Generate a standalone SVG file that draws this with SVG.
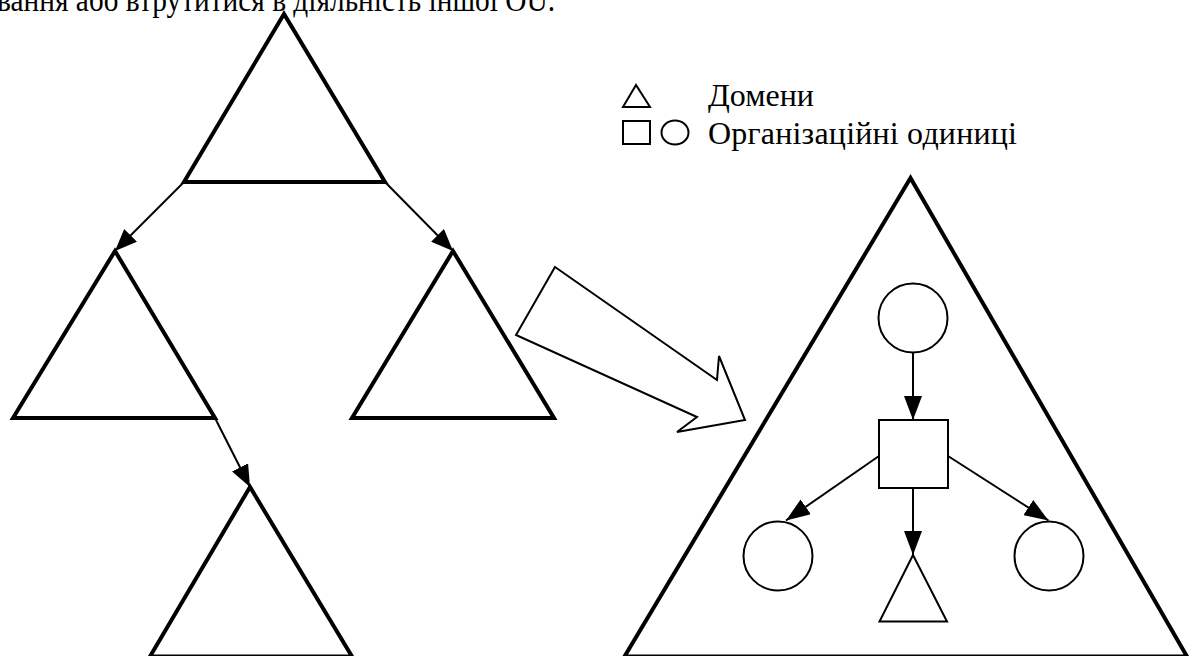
<svg xmlns="http://www.w3.org/2000/svg" width="1190" height="656" viewBox="0 0 1190 656">
<defs>
<style>
.dom{fill:#fff;stroke:#000;stroke-width:4;stroke-linejoin:miter}
.big{fill:#fff;stroke:#000;stroke-width:4}
.thin{fill:#fff;stroke:#000;stroke-width:2}
.con{fill:none;stroke:#000;stroke-width:2}
.txt{font-family:"Liberation Serif","Times New Roman",serif;fill:#000}
</style>
<marker id="ah" markerUnits="userSpaceOnUse" markerWidth="22" markerHeight="18" refX="22" refY="9" orient="auto">
<path d="M0,0 L22,9 L0,18 z" fill="#000"/>
</marker>
<marker id="ah2" markerUnits="userSpaceOnUse" markerWidth="24" markerHeight="18" refX="24" refY="9" orient="auto">
<path d="M0,0 L24,9 L0,18 z" fill="#000"/>
</marker>
</defs>
<rect width="1190" height="656" fill="#fff"/>
<text class="txt" x="-3" y="11" font-size="33" textLength="558" lengthAdjust="spacingAndGlyphs">вання або втрутитися в діяльність іншої OU.</text>

<g id="dom-top"><polygon class="dom" points="284,14 184,182 385,182"/></g>
<g id="dom-left"><polygon class="dom" points="115,251 13,418 215,418"/></g>
<g id="dom-right"><polygon class="dom" points="453,251 352,418 554,418"/></g>
<g id="dom-bottom"><polygon class="dom" points="250,487 150,656.5 352,656.5"/></g>

<g id="block-arrow"><polygon class="thin" stroke-width="2.5" points="555,267 717,380 719,356 745,420 677,432 697,417 516,335"/></g>

<g id="big-domain"><polygon class="big" points="910.5,178 624.5,656.5 1187,656.5"/></g>
<g id="ou-top"><circle class="thin" cx="913" cy="318" r="34.5"/></g>
<g id="ou-square"><rect class="thin" x="879" y="420" width="69" height="68"/></g>
<g id="ou-left"><circle class="thin" cx="778" cy="556" r="34.5"/></g>
<g id="ou-right"><circle class="thin" cx="1049" cy="556" r="34.5"/></g>
<g id="sub-domain"><polygon class="thin" points="913,555 879.5,621.5 947,621.5"/></g>

<g id="legend">
<polygon class="thin" stroke-width="2.5" points="636,85 623,107 650,107"/>
<rect class="thin" stroke-width="2.5" x="623" y="121" width="27" height="23"/>
<ellipse class="thin" stroke-width="2.5" cx="675" cy="132.5" rx="13.5" ry="12"/>
<text class="txt" x="708" y="106" font-size="32">Домени</text>
<text class="txt" x="708" y="143.5" font-size="32" textLength="309">Організаційні одиниці</text>
</g>

<g id="connectors">
<line class="con" x1="184" y1="182" x2="115" y2="251" marker-end="url(#ah)"/>
<line class="con" x1="385" y1="182" x2="453" y2="251" marker-end="url(#ah)"/>
<line class="con" x1="215" y1="418" x2="250" y2="487" marker-end="url(#ah)"/>
<line class="con" x1="913" y1="352.5" x2="913" y2="420" marker-end="url(#ah2)"/>
<line class="con" x1="879" y1="456" x2="786" y2="520.5" marker-end="url(#ah2)"/>
<line class="con" x1="948" y1="456" x2="1048.5" y2="520.5" marker-end="url(#ah2)"/>
<line class="con" x1="913" y1="488" x2="913" y2="555" marker-end="url(#ah2)"/>
</g>
</svg>
